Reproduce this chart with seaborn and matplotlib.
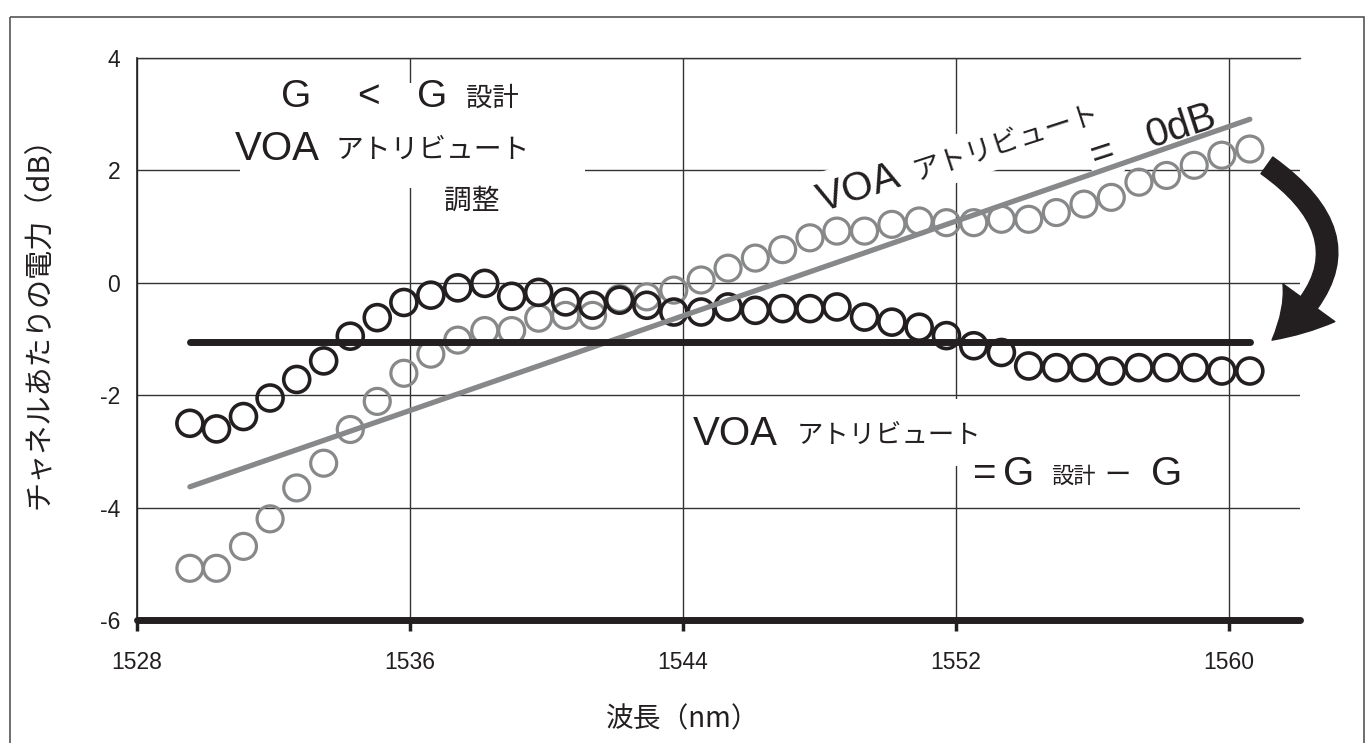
import matplotlib
matplotlib.use("Agg")
import matplotlib.pyplot as plt
import seaborn as sns
import pandas as pd
from matplotlib import transforms
from matplotlib.patches import Rectangle

# ---------------- data ----------------
wavelength_nm = [1529.55, 1530.33, 1531.12, 1531.90, 1532.68, 1533.47, 1534.25, 1535.04,
                 1535.82, 1536.61, 1537.40, 1538.19, 1538.98, 1539.77, 1540.56, 1541.35,
                 1542.14, 1542.94, 1543.73, 1544.53, 1545.32, 1546.12, 1546.92, 1547.72,
                 1548.51, 1549.32, 1550.12, 1550.92, 1551.72, 1552.52, 1553.33, 1554.13,
                 1554.94, 1555.75, 1556.55, 1557.36, 1558.17, 1558.98, 1559.79, 1560.61]
power_voa_0db = [-5.08, -5.08, -4.69, -4.20, -3.65, -3.21, -2.61, -2.11, -1.61, -1.27,
                 -1.02, -0.85, -0.85, -0.63, -0.58, -0.58, -0.28, -0.25, -0.13, 0.05,
                 0.26, 0.44, 0.59, 0.80, 0.92, 0.92, 1.04, 1.10, 1.07, 1.07,
                 1.13, 1.13, 1.25, 1.40, 1.52, 1.79, 1.91, 2.09, 2.27, 2.38]
power_voa_adjusted = [-2.50, -2.60, -2.38, -2.05, -1.72, -1.39, -0.95, -0.62, -0.35, -0.22,
                      -0.09, -0.01, -0.24, -0.17, -0.34, -0.40, -0.31, -0.40, -0.52, -0.52,
                      -0.43, -0.49, -0.46, -0.46, -0.43, -0.61, -0.70, -0.79, -0.94, -1.12,
                      -1.24, -1.48, -1.51, -1.51, -1.57, -1.51, -1.51, -1.51, -1.57, -1.57]
fit_wavelength = [1529.55, 1560.61]
fit_power = [-3.63, 2.91]
target_wavelength = [1529.55, 1560.61]
target_power = [-1.05, -1.05]
x_ticks = [1528, 1536, 1544, 1552, 1560]
y_ticks = [-6, -4, -2, 0, 2, 4]
arrow_from = (1561.11, 2.09)
arrow_to = (1561.26, -1.02)

INK = "#231f20"
GRAY = "#87888a"
GRID = "#333333"
LATIN = ["Liberation Sans", "Noto Sans CJK JP"]
CJK = ["Noto Sans CJK JP", "Liberation Sans"]

sns.set_theme(style="white")
plt.rcParams["font.family"] = LATIN
plt.rcParams["axes.unicode_minus"] = False

W, H = 1369, 743
fig = plt.figure(figsize=(W / 100, H / 100), dpi=100)
ax = fig.add_axes([137 / W, 1 - 620 / H, (1300 - 137) / W, (620 - 58) / H])
pix = transforms.Affine2D().scale(1 / W, -1 / H).translate(0, 1) + fig.transFigure

df_pts = pd.DataFrame({"wl": wavelength_nm, "g": power_voa_0db, "b": power_voa_adjusted})
df_fit = pd.DataFrame({"wl": fit_wavelength, "p": fit_power})
df_tgt = pd.DataFrame({"wl": target_wavelength, "p": target_power})

sns.scatterplot(data=df_pts, x="wl", y="g", marker="o", s=350, color=GRAY,
                facecolor="none", edgecolor=GRAY, linewidth=2.3, zorder=2, ax=ax)
sns.scatterplot(data=df_pts, x="wl", y="b", marker="o", s=350, color=INK,
                facecolor="none", edgecolor=INK, linewidth=2.6, zorder=2.2, ax=ax)
sns.lineplot(data=df_fit, x="wl", y="p", color=GRAY, lw=3.8, zorder=3,
             solid_capstyle="round", ax=ax)
sns.lineplot(data=df_tgt, x="wl", y="p", color=INK, lw=5, zorder=3.2,
             solid_capstyle="round", ax=ax)

ax.set_xlim(1528, 1562.08)
ax.set_ylim(-6, 4)
ax.set_xticks(x_ticks)
ax.set_yticks(y_ticks)
ax.set_xlabel("")
ax.set_ylabel("")
ax.set_axisbelow(True)
ax.grid(True, color=GRID, lw=1.0)
ax.spines["right"].set_visible(False)
ax.spines["top"].set_color(GRID)
ax.spines["top"].set_linewidth(1.0)
ax.spines["left"].set_color(INK)
ax.spines["left"].set_linewidth(1.2)
ax.spines["bottom"].set_color(INK)
ax.spines["bottom"].set_linewidth(5)
ax.spines["bottom"].set_capstyle("round")
ax.spines["bottom"].set_zorder(4)
ax.tick_params(axis="x", direction="out", length=8, width=2.5, color=INK,
               pad=14, labelsize=16.5, labelcolor=INK, bottom=True)
ax.tick_params(axis="y", length=0, pad=12, labelsize=16.5, labelcolor=INK, left=True)


def put(px, py, s, size, fam=LATIN, **kw):
    kw.setdefault("ha", "left")
    kw.setdefault("va", "baseline")
    kw.setdefault("zorder", 1.6)
    return ax.text(px, py, s, transform=pix, fontsize=size, color=INK,
                   family=fam, clip_on=False, **kw)


# white background areas behind annotation text
ax.add_patch(Rectangle((240, 83), 345, 105, transform=pix, fc="white", ec="none",
                       zorder=1.4, clip_on=False))
ax.add_patch(Rectangle((690, 399), 310, 67, transform=pix, fc="white", ec="none",
                       zorder=1.4, clip_on=False))

# top-left annotation
put(281, 107, "G", 28)
put(357, 107, "<", 28)
put(417, 107, "G", 28)
put(466, 106, "設計", 19, fam=CJK)
put(235, 160, "VOA", 29)
put(336, 158, "アトリビュート", 20, fam=CJK)
put(444, 209, "調整", 20, fam=CJK)

# rotated annotation
wb = dict(fc="white", ec="none", pad=6)
rot = dict(rotation=18, rotation_mode="anchor")
put(822, 212, "VOA", 29, bbox=wb, **rot)
put(916, 180, "アトリビュート", 20, fam=CJK, bbox=wb, **rot)
put(1095, 168, "=", 29, bbox=dict(fc="white", ec="none", pad=3), **rot)
put(1150, 148, "0dB", 29, **rot)

# lower annotation
put(693, 445, "VOA", 29)
put(797, 443, "アトリビュート", 19, fam=CJK)
put(973, 485, "=", 29)
put(1003, 485, "G", 29)
put(1051, 483, "設計", 16, fam=CJK)
put(1104, 483, "ー", 19, fam=CJK)
put(1151, 485, "G", 29)

# axis labels
ax.text(40, 316, "チャネルあたりの電力（dB）", transform=pix, fontsize=21, color=INK,
        family=CJK, rotation=90, ha="center", va="center")
ax.text(683, 719, "波長（nm）", transform=pix, fontsize=20, color=INK,
        family=CJK, ha="center", va="center")

# curved arrow
ax.annotate("", xy=arrow_to, xytext=arrow_from, annotation_clip=False,
            arrowprops=dict(arrowstyle="simple,head_width=3.3,head_length=2.7,tail_width=1.05",
                            mutation_scale=14, connectionstyle="arc3,rad=-0.66",
                            fc=INK, ec=INK, shrinkA=0, shrinkB=0, clip_on=False))

# outer frame
fig.add_artist(Rectangle((10, 17), 1354, 740, transform=pix, fill=False,
                         ec="#555555", lw=1.2, clip_on=False))

fig.savefig("out.png", dpi=100)
